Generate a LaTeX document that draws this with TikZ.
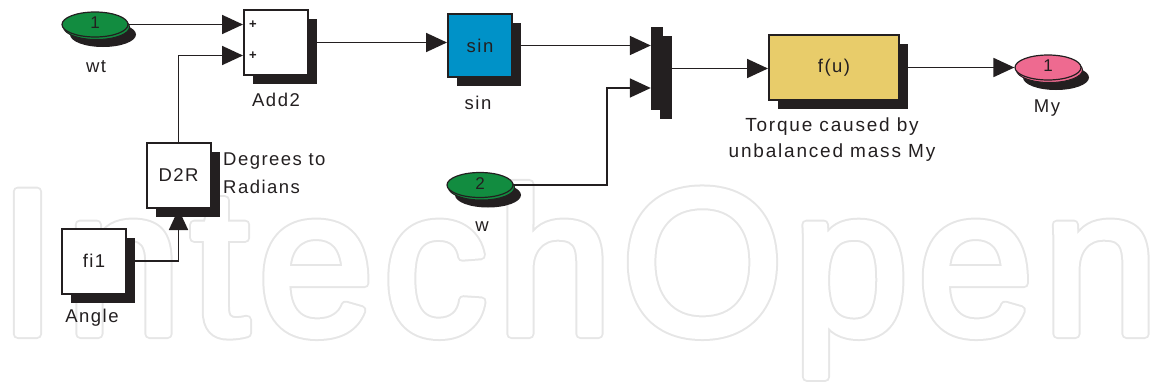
\documentclass[tikz,border=0pt]{standalone}
\usepackage{fontspec}
\setmainfont{Liberation Sans}
\newfontfamily\lblfont[LetterSpace=8]{Liberation Sans}
\newfontfamily\widefont[LetterSpace=9.5]{Liberation Sans}
\newfontfamily\wmfont[LetterSpace=4.8]{Liberation Sans}
\usetikzlibrary{arrows.meta,shapes.geometric,shadows}
\definecolor{ink}{RGB}{35,31,32}
\definecolor{pgreen}{RGB}{18,140,64}
\definecolor{sinblue}{RGB}{0,146,200}
\definecolor{fuyellow}{RGB}{232,204,106}
\definecolor{mypink}{RGB}{238,106,144}
\definecolor{wmgray}{RGB}{230,230,230}
\newcommand{\wmtext}{%
  \special{pdf:literal direct 1 j 1 Tr 10 w}\rlap{IntechOpen}%
  {\color{white}\special{pdf:literal direct 2 Tr 6 w}IntechOpen}%
  \special{pdf:literal direct 0 Tr 0.4 w 0 j}}
\begin{document}
\begin{tikzpicture}[x=1pt,y=-1pt,
  blk/.style={draw=ink, line width=2pt, fill=white, minimum width=64pt, minimum height=65pt, inner sep=0pt,
    text=ink, font=\lblfont\fontsize{18.5}{22}\selectfont,
    general shadow={shadow xshift=9pt, shadow yshift=-9pt, fill=ink}},
  port/.style={ellipse, draw=ink, line width=1.2pt, minimum width=66pt, minimum height=25pt, inner sep=0pt,
    text=ink, font=\fontsize{17}{17}\selectfont,
    general shadow={shadow xshift=8pt, shadow yshift=-10pt, fill=ink},
    general shadow={shadow xshift=1.5pt, shadow yshift=-2.5pt, fill=#1, draw=ink, line width=1pt},
    fill=#1},
  lbl/.style={font=\lblfont\fontsize{18.5}{26}\selectfont, text=ink, inner sep=0pt},
  plus/.style={font=\bfseries\fontsize{13}{13}\selectfont, text=ink, inner sep=0pt},
  arr/.style={draw=ink, line width=1.8pt, -{Triangle[length=21pt,width=19pt]}},
  muxbar/.style={fill=ink, minimum width=12pt, minimum height=83pt, inner sep=0pt,
    general shadow={shadow xshift=9pt, shadow yshift=-9pt, fill=ink}},
  wmark/.style={anchor=base west, inner sep=0pt, font=\wmfont\fontsize{207}{207}\selectfont}
]
\useasboundingbox (0,0) rectangle (1151,388);

% watermark (outlined text)
\node[wmark, text=wmgray] (wm) at (-1.5,334) {\wmtext};

% blocks
\node[port=pgreen] (wt) at (95,24.5) {\raisebox{3pt}{1}};
\node[lbl] (wtl) at (96,67) {wt};

\node[blk] (add) at (276,42.5) {};
\node[plus] (p1) at (253,25) {+};
\node[plus] (p2) at (253,56) {+};
\node[lbl] (addl) at (276,100) {Add2};

\node[blk, fill=sinblue, minimum height=63pt] (sin) at (480,45.5) {sin};
\node[lbl] (sinl) at (478,103) {sin};

\node[muxbar] (mux) at (657,68.5) {};

\node[port=pgreen] (w) at (480,185) {\raisebox{3pt}{2}};
\node[lbl] (wl) at (482,227) {w};

\node[blk] (d2r) at (178.5,175.5) {D2R};
\node[lbl, anchor=west, align=left, font=\lblfont\fontsize{18.5}{28}\selectfont] (d2rl) at (223,173) {Degrees to\\Radians};

\node[blk] (fi1) at (94,261) {fi1};
\node[lbl] (fi1l) at (92,318) {Angle};

\node[blk, fill=fuyellow, minimum width=130pt] (fu) at (834,67.5) {f(u)};
\node[lbl, align=center, font=\widefont\fontsize{19}{26}\selectfont] (ful) at (832,140) {Torque caused by\\unbalanced mass My};

\node[port=mypink] (my) at (1048,67.5) {\raisebox{3pt}{1}};
\node[lbl] (myl) at (1047,108) {My};

\coordinate (wjog) at (607,88);

% connectors
\draw[arr] (wt.east) -- (wt.east -| add.west);
\draw[arr] (d2r.north) |- ([yshift=-13pt]add.west);
\draw[arr] (add.east) -- (add.east -| sin.west);
\draw[arr] (sin.east) -- (sin.east -| mux.west);
\draw[arr] (w.east) -| (wjog) -- (wjog -| mux.west);
\draw[arr] (mux.east) -- (mux.east -| fu.west);
\draw[arr] (fu.east) -- (my.west);
\draw[arr] (fi1.east) -| (d2r.south);
\end{tikzpicture}
\end{document}
